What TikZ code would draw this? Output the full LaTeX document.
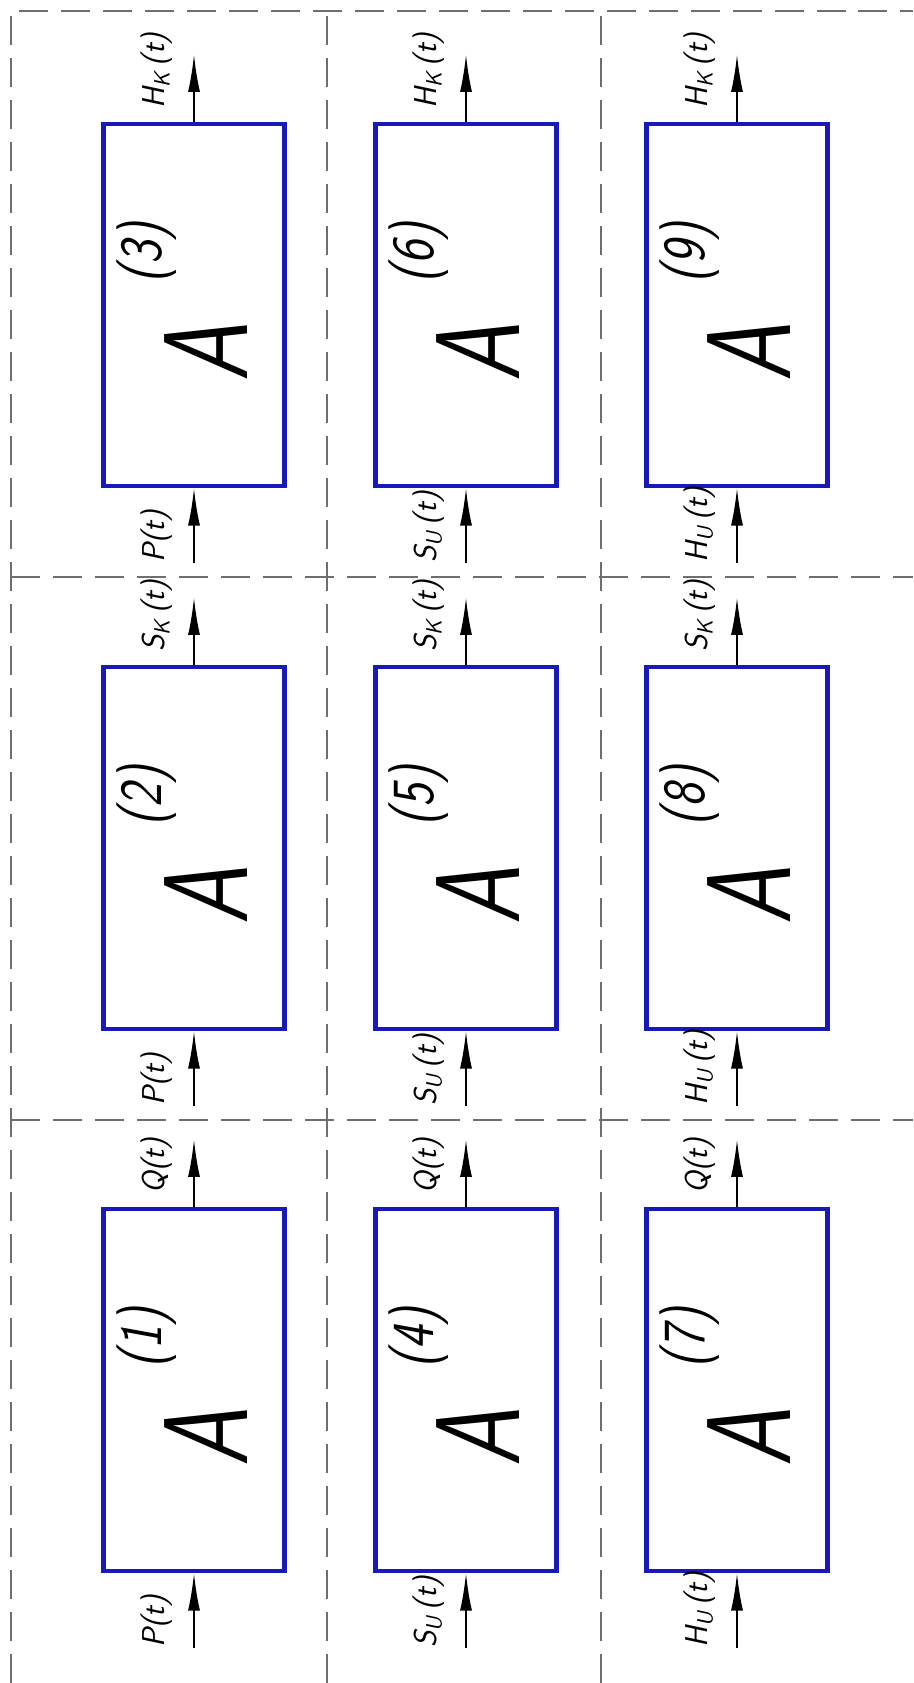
\documentclass[tikz,border=0pt]{standalone}
\usepackage{tikz}
\usetikzlibrary{arrows.meta, positioning}
\definecolor{myblue}{RGB}{25,25,185}
\definecolor{mygray}{RGB}{110,110,110}
\tikzset{
  block/.style={rectangle, draw=myblue, line width=2.4pt,
    minimum width=3.62cm, minimum height=7.24cm, inner sep=0pt},
  bigA/.style={rotate=90, inner sep=0pt,
    font=\sffamily\itshape\fontsize{68}{68}\selectfont},
  supnum/.style={rotate=90, inner sep=0pt,
    font=\sffamily\itshape\fontsize{34}{34}\selectfont},
  sig/.style={rotate=90, anchor=south west, inner sep=0pt,
    font=\sffamily\itshape\fontsize{18}{18}\selectfont},
  arrow/.style={-{Latex[length=7.5mm, width=2.4mm]}, line width=1.1pt, black},
  border/.style={mygray, line width=1.1pt, dash pattern=on 0.58cm off 0.26cm}
}
\newcommand{\narrowA}{\scalebox{0.78}[1]{A}}

\begin{document}
\begin{tikzpicture}[x=0.02cm, y=0.02cm]
  \useasboundingbox (0,0) rectangle (913,1683);

  % dashed frame and cell borders
  \draw[border] (11,0) -- (11,1672) -- (913,1672);
  \draw[border] (11,1106) -- (913,1106);
  \draw[border] (11,563) -- (913,563);
  \draw[border] (327,0) -- (327,1672);
  \draw[border] (601,0) -- (601,1672);

  % Block (1)
  \node[block] (b1) at (194,293) {};
  \node[bigA] (a1) at ([xshift=0.24cm, yshift=-0.95cm]b1.center) {\narrowA};
  \node[supnum] (n1) at ([xshift=-0.95cm, yshift=1.05cm]b1.center) {\scalebox{0.85}[1]{(1)}};
  \coordinate (i1) at ([yshift=-1.5cm]b1.south);
  \coordinate (o1) at ([yshift=1.35cm]b1.north);
  \draw[arrow] (i1) -- (b1);
  \draw[arrow] (b1) -- (o1);
  \node[sig] (li1) at ([xshift=-0.42cm]i1) {P(t)};
  \node[sig] (lo1) at ([xshift=-0.42cm, yshift=0.26cm]b1.north) {Q(t)};

  % Block (2)
  \node[block] (b2) at (194,835) {};
  \node[bigA] (a2) at ([xshift=0.24cm, yshift=-0.95cm]b2.center) {\narrowA};
  \node[supnum] (n2) at ([xshift=-0.95cm, yshift=1.05cm]b2.center) {\scalebox{0.85}[1]{(2)}};
  \coordinate (i2) at ([yshift=-1.5cm]b2.south);
  \coordinate (o2) at ([yshift=1.35cm]b2.north);
  \draw[arrow] (i2) -- (b2);
  \draw[arrow] (b2) -- (o2);
  \node[sig] (li2) at ([xshift=-0.42cm]i2) {P(t)};
  \node[sig] (lo2) at ([xshift=-0.42cm, yshift=0.26cm]b2.north) {S\textsubscript{K}\,(t)};

  % Block (3)
  \node[block] (b3) at (194,1378) {};
  \node[bigA] (a3) at ([xshift=0.24cm, yshift=-0.95cm]b3.center) {\narrowA};
  \node[supnum] (n3) at ([xshift=-0.95cm, yshift=1.05cm]b3.center) {\scalebox{0.85}[1]{(3)}};
  \coordinate (i3) at ([yshift=-1.5cm]b3.south);
  \coordinate (o3) at ([yshift=1.35cm]b3.north);
  \draw[arrow] (i3) -- (b3);
  \draw[arrow] (b3) -- (o3);
  \node[sig] (li3) at ([xshift=-0.42cm]i3) {P(t)};
  \node[sig] (lo3) at ([xshift=-0.42cm, yshift=0.26cm]b3.north) {H\textsubscript{K}\,(t)};

  % Block (4)
  \node[block] (b4) at (466,293) {};
  \node[bigA] (a4) at ([xshift=0.24cm, yshift=-0.95cm]b4.center) {\narrowA};
  \node[supnum] (n4) at ([xshift=-0.95cm, yshift=1.05cm]b4.center) {\scalebox{0.85}[1]{(4)}};
  \coordinate (i4) at ([yshift=-1.5cm]b4.south);
  \coordinate (o4) at ([yshift=1.35cm]b4.north);
  \draw[arrow] (i4) -- (b4);
  \draw[arrow] (b4) -- (o4);
  \node[sig] (li4) at ([xshift=-0.42cm]i4) {S\textsubscript{U}\,(t)};
  \node[sig] (lo4) at ([xshift=-0.42cm, yshift=0.26cm]b4.north) {Q(t)};

  % Block (5)
  \node[block] (b5) at (466,835) {};
  \node[bigA] (a5) at ([xshift=0.24cm, yshift=-0.95cm]b5.center) {\narrowA};
  \node[supnum] (n5) at ([xshift=-0.95cm, yshift=1.05cm]b5.center) {\scalebox{0.85}[1]{(5)}};
  \coordinate (i5) at ([yshift=-1.5cm]b5.south);
  \coordinate (o5) at ([yshift=1.35cm]b5.north);
  \draw[arrow] (i5) -- (b5);
  \draw[arrow] (b5) -- (o5);
  \node[sig] (li5) at ([xshift=-0.42cm]i5) {S\textsubscript{U}\,(t)};
  \node[sig] (lo5) at ([xshift=-0.42cm, yshift=0.26cm]b5.north) {S\textsubscript{K}\,(t)};

  % Block (6)
  \node[block] (b6) at (466,1378) {};
  \node[bigA] (a6) at ([xshift=0.24cm, yshift=-0.95cm]b6.center) {\narrowA};
  \node[supnum] (n6) at ([xshift=-0.95cm, yshift=1.05cm]b6.center) {\scalebox{0.85}[1]{(6)}};
  \coordinate (i6) at ([yshift=-1.5cm]b6.south);
  \coordinate (o6) at ([yshift=1.35cm]b6.north);
  \draw[arrow] (i6) -- (b6);
  \draw[arrow] (b6) -- (o6);
  \node[sig] (li6) at ([xshift=-0.42cm]i6) {S\textsubscript{U}\,(t)};
  \node[sig] (lo6) at ([xshift=-0.42cm, yshift=0.26cm]b6.north) {H\textsubscript{K}\,(t)};

  % Block (7)
  \node[block] (b7) at (737,293) {};
  \node[bigA] (a7) at ([xshift=0.24cm, yshift=-0.95cm]b7.center) {\narrowA};
  \node[supnum] (n7) at ([xshift=-0.95cm, yshift=1.05cm]b7.center) {\scalebox{0.85}[1]{(7)}};
  \coordinate (i7) at ([yshift=-1.5cm]b7.south);
  \coordinate (o7) at ([yshift=1.35cm]b7.north);
  \draw[arrow] (i7) -- (b7);
  \draw[arrow] (b7) -- (o7);
  \node[sig] (li7) at ([xshift=-0.42cm]i7) {H\textsubscript{U}\,(t)};
  \node[sig] (lo7) at ([xshift=-0.42cm, yshift=0.26cm]b7.north) {Q(t)};

  % Block (8)
  \node[block] (b8) at (737,835) {};
  \node[bigA] (a8) at ([xshift=0.24cm, yshift=-0.95cm]b8.center) {\narrowA};
  \node[supnum] (n8) at ([xshift=-0.95cm, yshift=1.05cm]b8.center) {\scalebox{0.85}[1]{(8)}};
  \coordinate (i8) at ([yshift=-1.5cm]b8.south);
  \coordinate (o8) at ([yshift=1.35cm]b8.north);
  \draw[arrow] (i8) -- (b8);
  \draw[arrow] (b8) -- (o8);
  \node[sig] (li8) at ([xshift=-0.42cm]i8) {H\textsubscript{U}\,(t)};
  \node[sig] (lo8) at ([xshift=-0.42cm, yshift=0.26cm]b8.north) {S\textsubscript{K}\,(t)};

  % Block (9)
  \node[block] (b9) at (737,1378) {};
  \node[bigA] (a9) at ([xshift=0.24cm, yshift=-0.95cm]b9.center) {\narrowA};
  \node[supnum] (n9) at ([xshift=-0.95cm, yshift=1.05cm]b9.center) {\scalebox{0.85}[1]{(9)}};
  \coordinate (i9) at ([yshift=-1.5cm]b9.south);
  \coordinate (o9) at ([yshift=1.35cm]b9.north);
  \draw[arrow] (i9) -- (b9);
  \draw[arrow] (b9) -- (o9);
  \node[sig] (li9) at ([xshift=-0.42cm]i9) {H\textsubscript{U}\,(t)};
  \node[sig] (lo9) at ([xshift=-0.42cm, yshift=0.26cm]b9.north) {H\textsubscript{K}\,(t)};
\end{tikzpicture}
\end{document}
